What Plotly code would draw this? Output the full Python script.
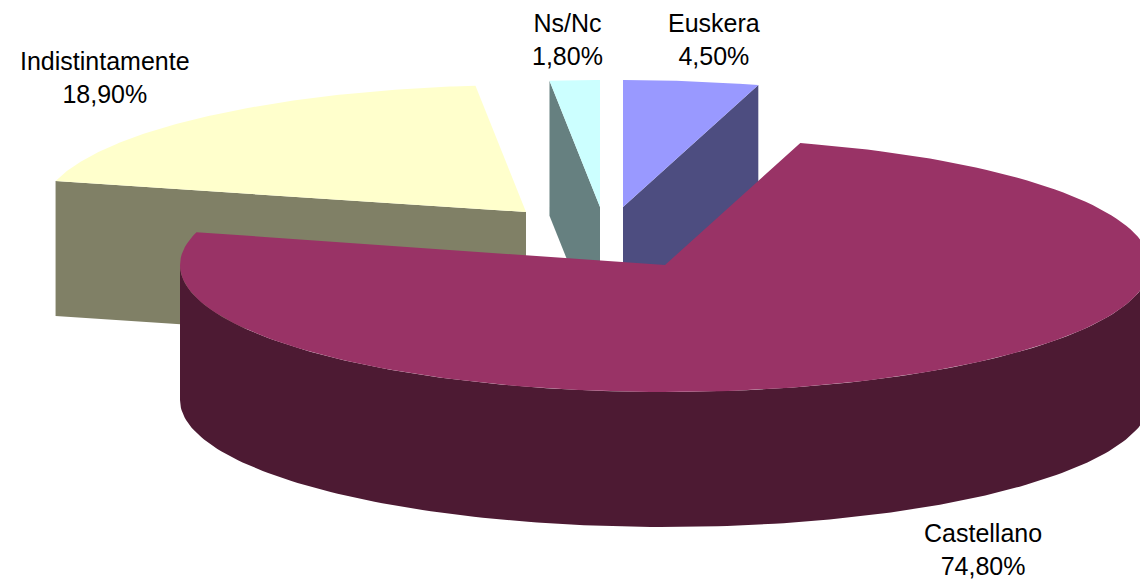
import numpy as np
import plotly.graph_objects as go

labels = ["Euskera", "Castellano", "Indistintamente", "Ns/Nc"]
values = [4.5, 74.8, 18.9, 1.8]
value_texts = ["4,50%", "74,80%", "18,90%", "1,80%"]
top_colors = ["#9999FF", "#993366", "#FFFFCC", "#CCFFFF"]
side_colors = ["#4D4D80", "#4D1A33", "#808066", "#668080"]

# pixel-space projection of the tilted pie
apex_x = [623, 665, 526, 600]
apex_y = [207, 265, 212, 207]
label_x = [714, 983, 105, 567]
label_y = [39, 549, 77, 39]
RX, RY, DEPTH = 485, 127, 135
draw_order = [2, 3, 0, 1]
# small angular corrections (degrees) for the source chart's perspective distortion
start_shift_deg = [0, 0, -1.4, 0.5]
end_shift_deg = [0, -0.5, 0.5, 0]

ends = np.cumsum(values) / sum(values) * 2 * np.pi
starts = np.concatenate([[0], ends[:-1]])
starts = starts + np.radians(start_shift_deg)
ends = ends + np.radians(end_shift_deg)


def rim(i, a, b, n=160):
    t = np.linspace(a, b, n)
    return apex_x[i] + RX * np.sin(t), apex_y[i] - RY * np.cos(t)


def side_path(i):
    a, b = starts[i], ends[i]
    if i == 1:  # front wall of the large slice
        x, y = rim(i, np.pi / 2, 3 * np.pi / 2)
        return np.concatenate([x, x[::-1]]), np.concatenate([y, y[::-1] + DEPTH])
    # cut face: closing edge for the first slice, opening edge for the others
    xe, ye = rim(i, b, b, 1) if i == 0 else rim(i, a, a, 1)
    xs = [apex_x[i], xe[0], xe[0], apex_x[i]]
    ys = [apex_y[i], ye[0], ye[0] + DEPTH, apex_y[i] + DEPTH]
    return np.asarray(xs), np.asarray(ys)


fig = go.Figure()
for i in draw_order:
    sx, sy = side_path(i)
    fig.add_trace(go.Scatter(x=sx, y=sy, mode="lines", fill="toself",
                             fillcolor=side_colors[i], line=dict(width=0),
                             hoverinfo="skip", showlegend=False))
    x, y = rim(i, starts[i], ends[i])
    fig.add_trace(go.Scatter(x=np.concatenate([[apex_x[i]], x, [apex_x[i]]]),
                             y=np.concatenate([[apex_y[i]], y, [apex_y[i]]]),
                             mode="lines", fill="toself",
                             fillcolor=top_colors[i], line=dict(width=0),
                             name=labels[i], hoverinfo="name", showlegend=False))

for i in range(len(labels)):
    fig.add_annotation(x=label_x[i], y=label_y[i], text=f"{labels[i]}<br>{value_texts[i]}",
                       showarrow=False, xanchor="center", yanchor="middle",
                       font=dict(family="Liberation Sans", size=25, color="#000000"))

fig.update_xaxes(range=[0, 1140], visible=False, fixedrange=True)
fig.update_yaxes(range=[582, 0], visible=False, fixedrange=True)
fig.update_layout(width=1140, height=582, margin=dict(l=0, r=0, t=0, b=0),
                  paper_bgcolor="white", plot_bgcolor="white")
fig.write_html("out.html", config=dict(displayModeBar=False),
               post_script="document.body.style.margin='0';document.body.style.overflow='hidden';")
